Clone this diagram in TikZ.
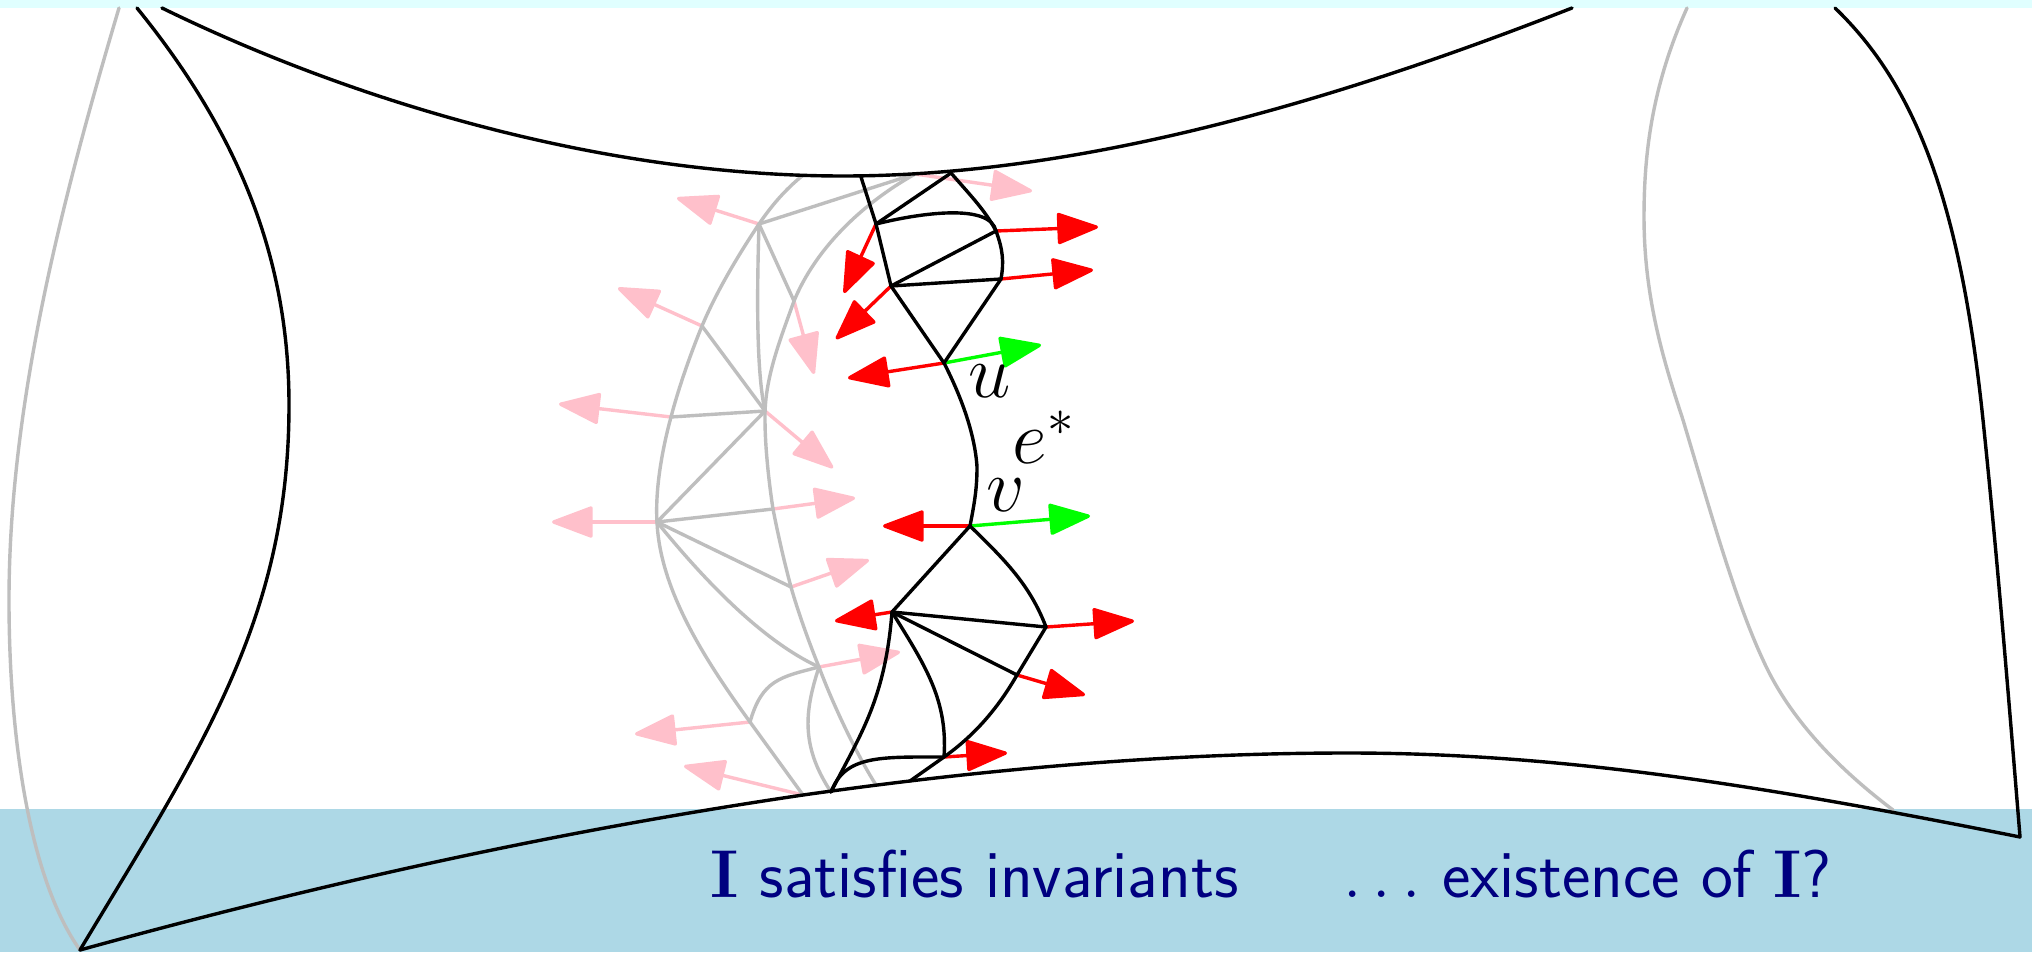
\documentclass[tikz,border=0pt]{standalone}
\usetikzlibrary{arrows.meta}
\definecolor{pk}{HTML}{FFC0CB}
\definecolor{gr}{HTML}{BEBEBE}
\definecolor{navyb}{HTML}{000080}
\definecolor{band}{HTML}{ADD8E6}
\definecolor{topband}{HTML}{E0FFFF}
\tikzset{
  blackedge/.style={black,line width=1.7pt,line join=round,line cap=round},
  grayedge/.style={gr,line width=1.7pt,line join=round,line cap=round},
  arrowbase/.style={line width=1.7pt,-{Triangle[length=22pt,width=16pt,round]}},
  pinkarrow/.style={arrowbase,pk},
  redarrow/.style={arrowbase,red},
  greenarrow/.style={arrowbase,green},
  mathlabel/.style={inner sep=0pt,font=\huge},
  captiontext/.style={inner sep=0pt,anchor=base west,text=navyb,font=\Huge\sffamily},
}
\newcommand{\mlab}[1]{\scalebox{1.83}{#1}}
\newcommand{\clab}[1]{\scalebox{1.36}{#1}}
\begin{document}
\begin{tikzpicture}[x=0.5pt,y=-0.5pt]
\useasboundingbox (0,0) rectangle (2032,952);
\fill[white] (0,0) rectangle (2032,952);
\fill[topband] (0,0) rectangle (2032,8);
\fill[band] (0,809) rectangle (2032,952);
% black vertices
\coordinate (A) at (951,173);
\coordinate (Stub) at (861,177);
\coordinate (B) at (876,224);
\coordinate (C) at (891,286);
\coordinate (D) at (996,231);
\coordinate (E) at (1001,279);
\coordinate (U) at (944,363);
\coordinate (UV) at (977,467);
\coordinate (V) at (970,526);
\coordinate (F) at (892,612);
\coordinate (G) at (1046,627);
\coordinate (H) at (1017,675);
\coordinate (I) at (944,757);
\coordinate (J) at (831,792);
\coordinate (K) at (910,781);
% gray vertices
\coordinate (L) at (803,795);
\coordinate (M) at (876,785);
\coordinate (N) at (657,522);
\coordinate (O) at (773,509);
\coordinate (P) at (791,587);
\coordinate (Q) at (819,667);
\coordinate (R) at (750,722);
\coordinate (S) at (759,224);
\coordinate (T) at (802,176);
\coordinate (W) at (915,174);
\coordinate (X) at (794,301);
\coordinate (Y) at (702,326);
\coordinate (Z) at (765,411);
\coordinate (AA) at (671,417);
% frame
\coordinate (F1) at (162,8);
\coordinate (F2) at (843,176);
\coordinate (F3) at (1572,8);
\coordinate (F4) at (137,8);
\coordinate (F5) at (289,405);
\coordinate (F6) at (80,950);
\coordinate (F7) at (119,8);
\coordinate (F8) at (9,600);
\coordinate (F9) at (1348,753);
\coordinate (F10) at (2020,837);
\coordinate (F11) at (1835,8);
\coordinate (F12) at (1983,420);
\coordinate (F13) at (1687,8);
\coordinate (F14) at (1644,217);
\coordinate (F15) at (1683,420);
\coordinate (F17) at (1763,660);
\coordinate (F16) at (1893,810);
% arrow tips
\coordinate (tW) at (1032,191);
\coordinate (tS) at (677,198);
\coordinate (tX) at (814,374);
\coordinate (tY) at (618,288);
\coordinate (tAA) at (559,404);
\coordinate (tZ) at (833,468);
\coordinate (tN) at (552,522);
\coordinate (tO) at (855,498);
\coordinate (tP) at (869,560);
\coordinate (tQ) at (900,652);
\coordinate (tR) at (635,734);
\coordinate (tL) at (684,766);
\coordinate (tD) at (1098,227);
\coordinate (tE) at (1093,270);
\coordinate (tB) at (844,293);
\coordinate (tC) at (836,339);
\coordinate (tUg) at (1041,345);
\coordinate (tUr) at (848,378);
\coordinate (tVr) at (883,526);
\coordinate (tVg) at (1090,516);
\coordinate (tF) at (835,621);
\coordinate (tG) at (1134,621);
\coordinate (tH) at (1085,695);
\coordinate (tI) at (1007,753);
% gray frame curves
\draw[grayedge] (F7) .. controls (65,190) and (9,400) .. (F8) .. controls (9,740) and (30,880) .. (F6);
\draw[grayedge] (F13) .. controls (1650,90) and (1644,160) .. (F14) .. controls (1644,300) and (1665,365) .. (F15) .. controls (1710,510) and (1735,600) .. (F17) .. controls (1790,720) and (1840,770) .. (F16);
% pink arrows
\draw[pinkarrow] (W) -- (tW);
\draw[pinkarrow] (S) -- (tS);
\draw[pinkarrow] (X) -- (tX);
\draw[pinkarrow] (Y) -- (tY);
\draw[pinkarrow] (AA) -- (tAA);
\draw[pinkarrow] (Z) -- (tZ);
\draw[pinkarrow] (N) -- (tN);
\draw[pinkarrow] (O) -- (tO);
\draw[pinkarrow] (P) -- (tP);
\draw[pinkarrow] (Q) -- (tQ);
\draw[pinkarrow] (R) -- (tR);
\draw[pinkarrow] (L) -- (tL);
% gray mesh
\draw[grayedge] (T) .. controls (785,190) and (772,205) .. (S);
\draw[grayedge] (W) -- (S);
\draw[grayedge] (S) -- (X);
\draw[grayedge] (S) .. controls (757,290) and (756,370) .. (Z);
\draw[grayedge] (S) .. controls (735,260) and (715,295) .. (Y) .. controls (690,355) and (678,390) .. (AA) .. controls (662,450) and (655,490) .. (N) .. controls (660,590) and (705,660) .. (R) -- (L);
\draw[grayedge] (W) .. controls (860,205) and (815,250) .. (X) .. controls (780,340) and (764,380) .. (765,420) .. controls (765,450) and (770,490) .. (O) .. controls (778,535) and (785,565) .. (P) .. controls (798,612) and (810,645) .. (Q) .. controls (835,710) and (860,760) .. (M);
\draw[grayedge] (Y) -- (Z);
\draw[grayedge] (AA) -- (Z);
\draw[grayedge] (Z) -- (N);
\draw[grayedge] (N) -- (O);
\draw[grayedge] (N) -- (P);
\draw[grayedge] (N) .. controls (700,575) and (760,640) .. (Q);
\draw[grayedge] (Q) .. controls (780,677) and (762,680) .. (R);
\draw[grayedge] (Q) .. controls (805,710) and (800,745) .. (J);
% red and green arrows
\draw[redarrow] (D) -- (tD);
\draw[redarrow] (E) -- (tE);
\draw[redarrow] (B) -- (tB);
\draw[redarrow] (C) -- (tC);
\draw[greenarrow] (U) -- (tUg);
\draw[redarrow] (U) -- (tUr);
\draw[redarrow] (V) -- (tVr);
\draw[greenarrow] (V) -- (tVg);
\draw[redarrow] (F) -- (tF);
\draw[redarrow] (G) -- (tG);
\draw[redarrow] (H) -- (tH);
\draw[redarrow] (I) -- (tI);
% black mesh
\draw[blackedge] (Stub) -- (B) -- (C) -- (U);
\draw[blackedge] (B) -- (A);
\draw[blackedge] (B) .. controls (920,213) and (990,203) .. (D);
\draw[blackedge] (A) .. controls (970,195) and (985,210) .. (D) .. controls (1003,250) and (1004,262) .. (E) -- (U);
\draw[blackedge] (C) -- (D);
\draw[blackedge] (C) -- (E);
\draw[blackedge] (U) .. controls (962,398) and (975,435) .. (UV) .. controls (977,490) and (974,505) .. (V);
\draw[blackedge] (V) -- (F);
\draw[blackedge] (V) .. controls (1005,560) and (1030,585) .. (G);
\draw[blackedge] (F) -- (G);
\draw[blackedge] (F) -- (H);
\draw[blackedge] (G) -- (H) .. controls (998,708) and (975,735) .. (I) -- (K);
\draw[blackedge] (F) .. controls (885,700) and (860,735) .. (J);
\draw[blackedge] (F) .. controls (925,665) and (948,700) .. (I);
\draw[blackedge] (J) .. controls (845,755) and (880,757) .. (I);
% black frame curves
\draw[blackedge] (F1) .. controls (350,100) and (600,176) .. (F2) .. controls (1090,176) and (1350,95) .. (F3);
\draw[blackedge] (F4) .. controls (240,135) and (289,260) .. (F5) .. controls (289,620) and (200,750) .. (F6);
\draw[blackedge] (F6) .. controls (370,870) and (600,825) .. (L) .. controls (1000,767) and (1180,753) .. (F9) .. controls (1560,753) and (1760,785) .. (F10);
\draw[blackedge] (F11) .. controls (1915,85) and (1960,200) .. (F12) .. controls (1997,555) and (2008,690) .. (F10);
% labels
\node[mathlabel] (lu) at (990,381.5) {\mlab{$u$}};
\node[mathlabel] (le) at (1044,437) {\mlab{$e^*$}};
\node[mathlabel] (lv) at (1005.5,495.5) {\mlab{$v$}};
\node[captiontext] (cap1) at (710,897) {\clab{$\mathbf{I}$ satisfies invariants}};
\node[captiontext] (cap2) at (1343,897) {\clab{$\ldots$ existence of $\mathbf{I}$?}};
\end{tikzpicture}
\end{document}
